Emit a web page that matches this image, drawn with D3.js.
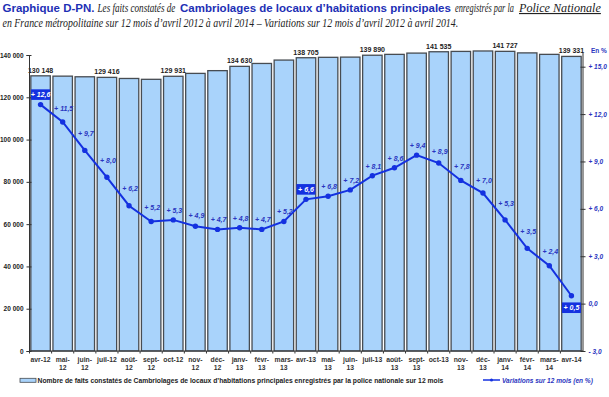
<!DOCTYPE html>
<html>
<head>
<meta charset="utf-8">
<script src="https://cdn.jsdelivr.net/npm/d3@7"></script>
<style>
  body { margin: 0; background: #fff; }
  svg { display: block; }
</style>
</head>
<body>
<div id="chart"></div>
<script>
// months (x categories)
var months = ["avr-12","mai-12","juin-12","juil-12","août-12","sept-12","oct-12","nov-12","déc-12",
  "janv-13","févr-13","mars-13","avr-13","mai-13","juin-13","juil-13","août-13","sept-13","oct-13",
  "nov-13","déc-13","janv-14","févr-14","mars-14","avr-14"];

// faits constatés sur 12 mois (bars, left axis)
var faits = [130148,130000,129700,129416,128900,128500,129931,131300,132600,
  134630,136000,137600,138705,138900,139000,139890,140300,140900,141535,
  141700,141900,141727,141000,140300,139331];

// bars that carry a value label
var labelledBars = ["avr-12","juil-12","oct-12","janv-13","avr-13","juil-13","oct-13","janv-14","avr-14"];

// variations sur 12 mois en % (line, right axis)
var variations = [12.6,11.5,9.7,8.0,6.2,5.2,5.3,4.9,4.7,4.8,4.7,5.2,6.6,6.8,7.2,8.1,8.6,9.4,8.9,
  7.8,7.0,5.3,3.5,2.4,0.5];

// points shown with a filled box
var boxedPoints = ["avr-12","avr-13","avr-14"];

// month names whose label stays on one line
var oneLine = ["avr","juil","oct"];

var leftTicks = [0,20000,40000,60000,80000,100000,120000,140000];
var rightTicks = [-3,0,3,6,9,12,15];

var W = 609, H = 397;
var blue = "#1431e0", dark = "#222", labBlue = "#2a35c0";
var sans = "'Liberation Sans', Arial, sans-serif";
var serif = "'Liberation Serif', serif";

var svg = d3.select("#chart").append("svg")
    .attr("width", W)
    .attr("height", H);

// squeeze a text horizontally so it fills a given width
function fitText(sel, x0, y0, w) {
  var n = sel.node().getComputedTextLength();
  sel.attr("transform", "translate(" + x0 + "," + y0 + ") scale(" + (w / n) + ",1)");
  return sel;
}

// ---- title
var t1 = [
  {t: "Graphique D-PN.", x: 2.5, w: 92, sans: true},
  {t: "Les faits constatés de", x: 97.5, w: 78},
  {t: "Cambriolages de locaux d\u2019habitations principales", x: 180, w: 271, sans: true},
  {t: "enregistrés par la", x: 455, w: 59},
  {t: "Police Nationale", x: 519, w: 82, u: true}
];
t1.forEach(function(s) {
  var el = svg.append("text")
    .style("font-family", s.sans ? sans : serif)
    .style("font-weight", s.sans ? "bold" : "normal")
    .style("font-style", s.sans ? "normal" : "italic")
    .style("font-size", s.sans ? "11px" : "11.5px")
    .style("text-decoration", s.u ? "underline" : null)
    .attr("fill", s.sans ? "#1d2fb5" : dark)
    .text(s.t);
  fitText(el, s.x, 12, s.w);
});
fitText(svg.append("text")
  .style("font-family", serif)
  .style("font-style", "italic")
  .style("font-size", "11.5px")
  .attr("fill", dark)
  .text("en France métropolitaine sur 12 mois d\u2019avril 2012 à avril 2014 \u2013 Variations sur 12 mois d\u2019avril 2012 à avril 2014."),
  2.5, 27, 456);

// ---- scales
var x = d3.scaleBand()
  .domain(months)
  .range([29.5, 582.5])
  .paddingInner(0.12)
  .paddingOuter(0.06);

var yL = d3.scaleLinear().domain([0, 140000]).range([351, 55]);
var yR = d3.scaleLinear().domain([-3, 15]).range([351, 66.7]);

// ---- bars
svg.selectAll("rect.bar")
  .data(months)
  .enter()
  .append("rect")
    .attr("class", "bar")
    .attr("x", function(d) { return x(d); })
    .attr("y", function(d, i) { return yL(faits[i]); })
    .attr("width", x.bandwidth())
    .attr("height", function(d, i) { return yL(0) - yL(faits[i]); })
    .attr("fill", "#a9d3fb")
    .attr("stroke", "#474c52")
    .attr("stroke-width", 1.3);

var fmtK = function(v) { return d3.format(",")(v).replace(/,/g, " "); };
svg.selectAll("text.barlab")
  .data(months.filter(function(d) { return labelledBars.indexOf(d) >= 0; }))
  .enter()
  .append("text")
    .attr("class", "barlab")
    .attr("x", function(d) { return x(d) + x.bandwidth() / 2; })
    .attr("y", function(d) { return yL(faits[months.indexOf(d)]) - 3; })
    .attr("text-anchor", "middle")
    .style("font-family", sans)
    .style("font-weight", "bold")
    .style("font-size", "7px")
    .attr("fill", dark)
    .text(function(d) { return fmtK(faits[months.indexOf(d)]); });

// ---- left axis
var axL = svg.append("g")
  .attr("transform", "translate(29,0)")
  .call(d3.axisLeft(yL).tickValues(leftTicks).tickSize(2.5).tickPadding(3)
    .tickFormat(function(d) { return fmtK(d); }));
axL.select(".domain").attr("stroke", "#333");
axL.selectAll(".tick line").attr("stroke", "#333").attr("x2", 2.5).attr("x1", -2.5);
axL.selectAll("text")
  .style("font-family", sans)
  .style("font-weight", "bold")
  .style("font-size", "6.5px")
  .attr("fill", dark);

// ---- right axis
var fmtP = function(v) {
  var s = Math.abs(v).toFixed(1).replace(".", ",");
  return v > 0 ? "+ " + s : (v < 0 ? "- " + s : s);
};
var axR = svg.append("g")
  .attr("transform", "translate(583,0)")
  .call(d3.axisRight(yR).tickValues(rightTicks).tickSize(2.5).tickPadding(3).tickFormat(fmtP));
axR.select(".domain").attr("stroke", "#333").attr("d", "M0,53V351");
axR.selectAll(".tick line").attr("stroke", "#333").attr("x1", -2.5);
axR.selectAll("text")
  .style("font-family", sans)
  .style("font-weight", "bold")
  .style("font-style", "italic")
  .style("font-size", "6.5px")
  .attr("fill", labBlue);
svg.append("text")
  .attr("x", 591).attr("y", 53)
  .style("font-family", sans)
  .style("font-weight", "bold")
  .style("font-size", "6.5px")
  .attr("fill", labBlue)
  .text("En %");

// ---- x axis
svg.append("line")
  .attr("x1", 29).attr("x2", 583).attr("y1", 351).attr("y2", 351)
  .attr("stroke", "#333");
var gap = (x.step() - x.bandwidth()) / 2;
svg.selectAll("line.xt")
  .data(months)
  .enter()
  .append("line")
    .attr("class", "xt")
    .attr("x1", function(d) { return x(d) - gap; })
    .attr("x2", function(d) { return x(d) - gap; })
    .attr("y1", 351).attr("y2", 353.5)
    .attr("stroke", "#333");

svg.selectAll("text.xlab")
  .data(months)
  .enter()
  .append("text")
    .attr("class", "xlab")
    .attr("text-anchor", "middle")
    .style("font-family", sans)
    .style("font-weight", "bold")
    .style("font-size", "6.8px")
    .attr("fill", "#333")
    .each(function(d) {
      var cx = x(d) + x.bandwidth() / 2;
      var el = d3.select(this);
      var p = d.split("-");
      if (oneLine.indexOf(p[0]) >= 0) {
        el.append("tspan").attr("x", cx).attr("y", 361.5).text(d);
      } else {
        el.append("tspan").attr("x", cx).attr("y", 361.5).text(p[0] + "-");
        el.append("tspan").attr("x", cx).attr("y", 370).text(p[1]);
      }
    });

// ---- variation line
var cxp = function(i) { return x(months[i]) + x.bandwidth() / 2; };
var line = d3.line()
  .x(function(d, i) { return cxp(i); })
  .y(function(d) { return yR(d); });
svg.append("path")
  .datum(variations)
  .attr("d", line)
  .attr("fill", "none")
  .attr("stroke", blue)
  .attr("stroke-width", 2);
svg.selectAll("circle.pt")
  .data(variations)
  .enter()
  .append("circle")
    .attr("class", "pt")
    .attr("cx", function(d, i) { return cxp(i); })
    .attr("cy", function(d) { return yR(d); })
    .attr("r", 2.7)
    .attr("fill", blue);

svg.selectAll("g.vlab")
  .data(variations)
  .enter()
  .append("g")
    .attr("class", "vlab")
    .each(function(v, i) {
      var g = d3.select(this);
      var cx = cxp(i), cy = yR(v);
      if (boxedPoints.indexOf(months[i]) >= 0) {
        var by = i === months.length - 1 ? cy + 12 : cy - 10;
        g.append("rect")
          .attr("x", cx - 9.5).attr("y", by - 5.3)
          .attr("width", 19).attr("height", 10.6)
          .attr("fill", blue);
        g.append("text")
          .attr("x", cx).attr("y", by + 2.5)
          .attr("text-anchor", "middle")
          .style("font-family", sans)
          .style("font-weight", "bold").style("font-style", "italic")
          .style("font-size", "7px")
          .attr("fill", "#fff")
          .text(fmtP(v));
      } else {
        var drop = i > 0 ? Math.max(0, variations[i - 1] - v) : 0;
        var off = 7 + Math.min(4 * drop, 8);
        g.append("text")
          .attr("x", cx + 1).attr("y", cy - off)
          .attr("text-anchor", "middle")
          .style("font-family", sans)
          .style("font-weight", "bold").style("font-style", "italic")
          .style("font-size", "7px")
          .attr("fill", labBlue)
          .text(fmtP(v));
      }
    });

// ---- legend
svg.append("rect")
  .attr("x", 20).attr("y", 378.3).attr("width", 16).attr("height", 4)
  .attr("fill", "#a9d3fb").attr("stroke", "#474c52").attr("stroke-width", 0.8);
fitText(svg.append("text")
  .style("font-family", sans)
  .style("font-weight", "bold")
  .style("font-size", "6.8px")
  .attr("fill", dark)
  .text("Nombre de faits constatés de Cambriolages de locaux d\u2019habitations principales enregistrés par la police nationale sur 12 mois"),
  37.5, 382.5, 407);
svg.append("line")
  .attr("x1", 483).attr("x2", 500).attr("y1", 380).attr("y2", 380)
  .attr("stroke", blue).attr("stroke-width", 1.5);
svg.append("circle")
  .attr("cx", 491.5).attr("cy", 380).attr("r", 1.5).attr("fill", blue);
fitText(svg.append("text")
  .style("font-family", sans)
  .style("font-weight", "bold").style("font-style", "italic")
  .style("font-size", "6.8px")
  .attr("fill", labBlue)
  .text("Variations sur 12 mois (en %)"),
  502, 382.5, 91);
</script>
</body>
</html>
